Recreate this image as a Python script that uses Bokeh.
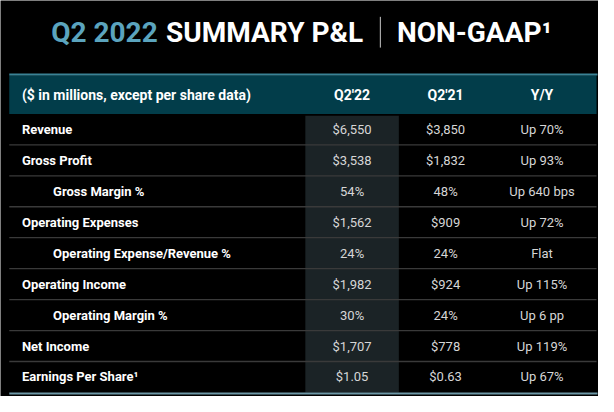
from bokeh.plotting import figure
from bokeh.models import Range1d
from bokeh.embed import file_html
from bokeh.resources import INLINE
from bokeh.core.properties import value

# ---- data ----
title_year = "Q2 2022"
title_main = "SUMMARY P&L"
title_sub = "NON-GAAP¹"
header_labels = ["($ in millions, except per share data)", "Q2'22", "Q2'21", "Y/Y"]
row_labels = ["Revenue", "Gross Profit", "Gross Margin %", "Operating Expenses",
              "Operating Expense/Revenue %", "Operating Income", "Operating Margin %",
              "Net Income", "Earnings Per Share¹"]
row_indent = [0, 0, 1, 0, 1, 0, 1, 0, 0]
q2_22 = ["$6,550", "$3,538", "54%", "$1,562", "24%", "$1,982", "30%", "$1,707", "$1.05"]
q2_21 = ["$3,850", "$1,832", "48%", "$909", "24%", "$924", "24%", "$778", "$0.63"]
yoy = ["Up 70%", "Up 93%", "Up 640 bps", "Up 72%", "Flat", "Up 115%", "Up 6 pp", "Up 119%", "Up 67%"]

# ---- layout (slide coordinates, 614 x 412) ----
FONT = value("Roboto")
LEFT, RIGHT = 9, 612
HEAD_TOP, HEAD_BOT = 78, 118
ROW_H = 32.2
col_x = [361, 457, 556]
HL_L, HL_R = 313, 409

p = figure(width=598, height=396, x_range=Range1d(0, 614), y_range=Range1d(412, 0),
           output_backend="svg", toolbar_location=None, min_border=0)
p.axis.visible = False
p.grid.visible = False
p.outline_line_color = None
p.background_fill_color = "#000000"
p.border_fill_color = "#000000"

n = len(row_labels)
row_top = [HEAD_BOT + i * ROW_H for i in range(n)]
row_mid = [t + ROW_H / 2 for t in row_top]
table_bot = HEAD_BOT + n * ROW_H

# highlight column
p.quad(left=[HL_L], right=[HL_R], top=[HEAD_BOT + 2], bottom=[table_bot], fill_color="#1B2326", line_color=None)
# header bar
p.quad(left=[LEFT], right=[RIGHT], top=[HEAD_TOP], bottom=[HEAD_BOT], fill_color="#023D4A", line_color=None)
p.segment(x0=[LEFT], x1=[RIGHT + 1], y0=[HEAD_TOP - 1], y1=[HEAD_TOP - 1], line_color="#3A8396", line_width=2)
# separators
seps = row_top[1:]
p.segment(x0=[LEFT] * len(seps), x1=[RIGHT] * len(seps), y0=seps, y1=seps, line_color="#3A3A3A", line_width=1.3)
p.segment(x0=[LEFT], x1=[RIGHT + 1], y0=[table_bot + 1], y1=[table_bot + 1], line_color="#6C97A6", line_width=2)

# title
TS = "28px"
TY = 33
p.text(x=[52], y=[TY], text=[title_year], text_color="#5BA4BE", text_font=FONT, text_font_style="bold",
       text_font_size=TS, text_baseline="middle", text_align="left")
p.text(x=[170], y=[TY], text=[title_main], text_color="#FFFFFF", text_font=FONT, text_font_style="bold",
       text_font_size=TS, text_baseline="middle", text_align="left")
p.segment(x0=[390], x1=[390], y0=[17], y1=[49], line_color="#C8C8C8", line_width=1)
p.text(x=[407], y=[TY], text=[title_sub], text_color="#FFFFFF", text_font=FONT, text_font_style="bold",
       text_font_size=TS, text_baseline="middle", text_align="left")

# header texts
hy = (HEAD_TOP + HEAD_BOT) / 2
p.text(x=[22], y=[hy], text=[header_labels[0]], text_color="#FFFFFF", text_font=FONT, text_font_style="bold",
       text_font_size="14px", text_baseline="middle", text_align="left")
p.text(x=col_x, y=[hy] * 3, text=header_labels[1:], text_color="#FFFFFF", text_font=FONT, text_font_style="bold",
       text_font_size="14px", text_baseline="middle", text_align="center")

# row labels
lx = [54 if ind else 22 for ind in row_indent]
p.text(x=lx, y=row_mid, text=row_labels, text_color="#FFFFFF", text_font=FONT, text_font_style="bold",
       text_font_size="13px", text_baseline="middle", text_align="left")
# values
for cx, vals in zip(col_x, [q2_22, q2_21, yoy]):
    p.text(x=[cx] * n, y=row_mid, text=vals, text_color="#D6D6D6", text_font=FONT,
           text_font_size="13px", text_baseline="middle", text_align="center")

open("out.html", "w").write(file_html(p, INLINE))
